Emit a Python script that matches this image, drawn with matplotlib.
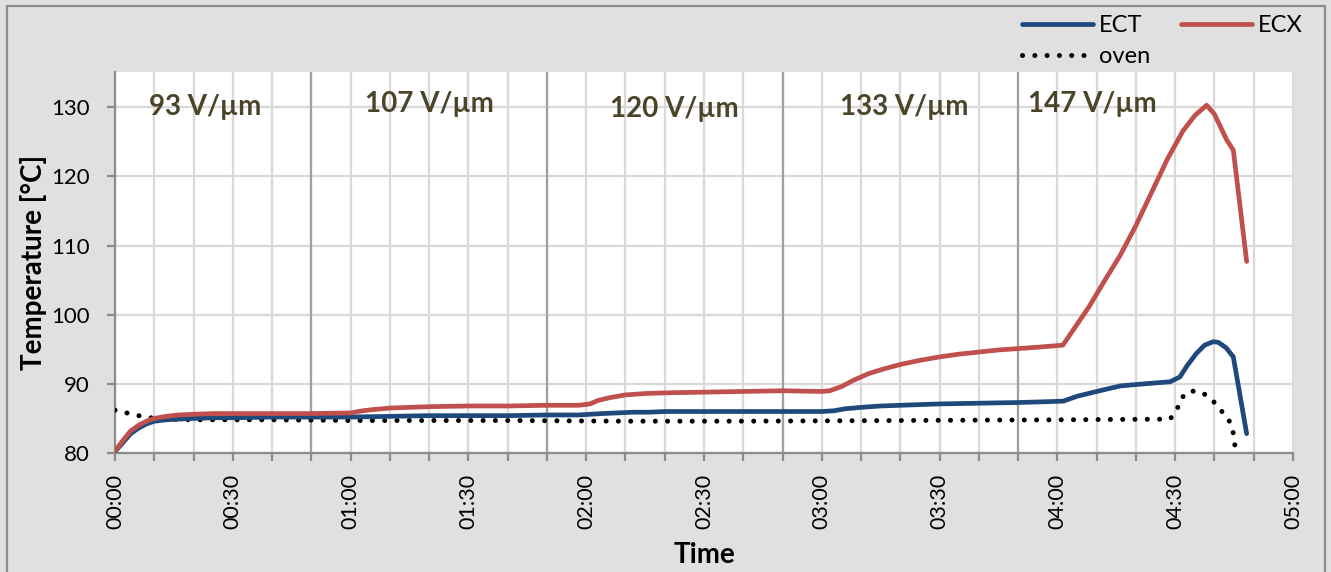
import matplotlib
matplotlib.use("Agg")
import matplotlib.pyplot as plt
from matplotlib.ticker import MultipleLocator, FuncFormatter
from matplotlib.patches import Rectangle

plt.rcParams['font.family'] = ['Lato', 'DejaVu Sans']

# time in minutes since start of the test
t_ect = [0, 2, 4, 6, 8, 10, 13, 16, 20, 25, 30, 40, 50, 60, 70, 80, 90, 100, 110, 118,
         121, 124, 128, 132, 136, 140, 150, 160, 170, 180, 183, 186, 190, 195, 200, 205,
         210, 220, 230, 236, 241.5, 245, 250, 256, 262, 268.7, 271.2, 273, 275.4, 277.5,
         279.7, 281, 283, 284.8, 288.2]
ect = [80.2, 81.5, 82.8, 83.6, 84.2, 84.6, 84.8, 84.9, 85.0, 85.1, 85.1, 85.2, 85.2, 85.2,
       85.3, 85.4, 85.4, 85.4, 85.5, 85.5, 85.6, 85.7, 85.8, 85.9, 85.9, 86.0, 86.0, 86.0,
       86.0, 86.0, 86.1, 86.4, 86.6, 86.8, 86.9, 87.0, 87.1, 87.2, 87.3, 87.4, 87.5, 88.2,
       88.9, 89.7, 90.0, 90.3, 91.0, 92.6, 94.4, 95.6, 96.1, 96.0, 95.2, 93.9, 82.8]

t_ecx = [0, 2, 4, 6, 8, 10, 13, 16, 20, 25, 30, 40, 50, 60, 63, 66, 70, 75, 80, 90, 100,
         110, 118, 121, 123, 126, 130, 135, 140, 150, 160, 170, 180, 182, 185, 188, 192,
         196, 200, 205, 210, 215, 220, 225, 230, 235, 241.4, 245, 248, 252, 256, 260, 264,
         268, 272, 275, 278, 280, 283.1, 284.8, 288.2]
ecx = [80.3, 81.8, 83.2, 84.0, 84.6, 85.0, 85.3, 85.5, 85.6, 85.7, 85.7, 85.7, 85.7, 85.8,
       86.1, 86.3, 86.5, 86.6, 86.7, 86.8, 86.8, 86.9, 86.9, 87.1, 87.6, 88.0, 88.4, 88.6,
       88.7, 88.8, 88.9, 89.0, 88.9, 89.0, 89.6, 90.5, 91.5, 92.2, 92.8, 93.4, 93.9, 94.3,
       94.6, 94.9, 95.1, 95.3, 95.6, 98.6, 101.1, 104.9, 108.6, 112.9, 117.7, 122.5, 126.6,
       128.8, 130.3, 129.0, 125.3, 123.8, 107.7]

t_oven = [0, 3, 6, 9, 12, 20, 40, 60, 100, 130, 160, 200, 240, 268.7, 270.4, 271.5, 273.6,
          276.7, 279.3, 281.2, 283.3, 284.6, 285.0, 285.4, 286.0]
oven = [86.2, 85.8, 85.4, 85.1, 84.9, 84.8, 84.8, 84.7, 84.7, 84.6, 84.6, 84.7, 84.8, 84.9,
        86.2, 87.9, 89.0, 88.8, 87.8, 86.4, 85.2, 83.6, 81.9, 80.2, 78.5]

# field steps: switch times (min) and label positions
steps = [50, 110, 170, 230]
field_labels = ['93 V/µm', '107 V/µm', '120 V/µm', '133 V/µm', '147 V/µm']
label_x = [23, 80, 142.5, 201, 249]
label_y = [130.1, 130.4, 129.7, 130.1, 130.4]

fig = plt.figure(figsize=(13.31, 5.72), dpi=100)
fig.patch.set_facecolor('#e0e0e0')
ax = fig.add_axes([115 / 1331, 1 - 453 / 572, 1178 / 1331, 381 / 572])
ax.set_facecolor('white')

# grid
for v in range(0, 301, 10):
    ax.axvline(v, color='#d9d9d9', lw=1.6, zorder=0)
for v in range(80, 131, 10):
    ax.axhline(v, color='#d9d9d9', lw=1.6, zorder=0)
for s in steps:
    ax.axvline(s, color='#a0a0a0', lw=1.6, zorder=1)

ax.plot(t_ect, ect, color='#1F497D', lw=3.4, solid_capstyle='round', label='ECT', zorder=4)
ax.plot(t_oven, oven, color='black', lw=3.6, linestyle=(0, (0.01, 2.45)),
        dash_capstyle='round', label='oven', zorder=3)
ax.plot(t_ecx, ecx, color='#C0504D', lw=3.4, solid_capstyle='round', label='ECX', zorder=4)

for txt, x, y in zip(field_labels, label_x, label_y):
    ax.text(x, y, txt, fontsize=20, fontweight='bold', color='#4a4529',
            ha='center', va='center', zorder=5)

ax.set_xlim(0, 300)
ax.set_ylim(80, 135.1)
ax.xaxis.set_major_locator(MultipleLocator(30))
ax.xaxis.set_minor_locator(MultipleLocator(10))
ax.xaxis.set_major_formatter(FuncFormatter(lambda m, p: '%02d:%02d' % (int(m) // 60, int(m) % 60)))
ax.set_yticks(range(80, 131, 10))

for sp in ['top', 'right']:
    ax.spines[sp].set_visible(False)
for sp in ['left', 'bottom']:
    ax.spines[sp].set_color('#8c8c8c')
    ax.spines[sp].set_linewidth(1.6)

ax.tick_params(axis='x', which='both', direction='out', length=6, width=1.6,
               color='#8c8c8c', labelsize=15.5, rotation=90, pad=9)
ax.tick_params(axis='y', which='both', direction='out', length=6, width=1.6,
               color='#8c8c8c', labelsize=16, pad=12)

ax.set_xlabel('Time', fontsize=20, fontweight='bold', labelpad=9)
ax.set_ylabel('Temperature [°C]', fontsize=20, fontweight='bold', labelpad=3)

# legend: ECT and ECX in the first row, oven below
handles, labels = ax.get_legend_handles_labels()
fig.legend(handles, labels, ncol=2,
           loc='upper right', bbox_to_anchor=(1324 / 1331, 1 + 6 / 572), frameon=False,
           fontsize=17, handlelength=3.0, columnspacing=1.3, handletextpad=0.25,
           labelspacing=0.42)

# outer frame of the chart
fig.patches.append(Rectangle((7 / 1331, -0.05), 1318 / 1331, 1.05 - 6 / 572,
                             transform=fig.transFigure, fill=False,
                             edgecolor='#8c8c8c', lw=1.6))

fig.savefig('out.png', dpi=100, facecolor=fig.get_facecolor())
